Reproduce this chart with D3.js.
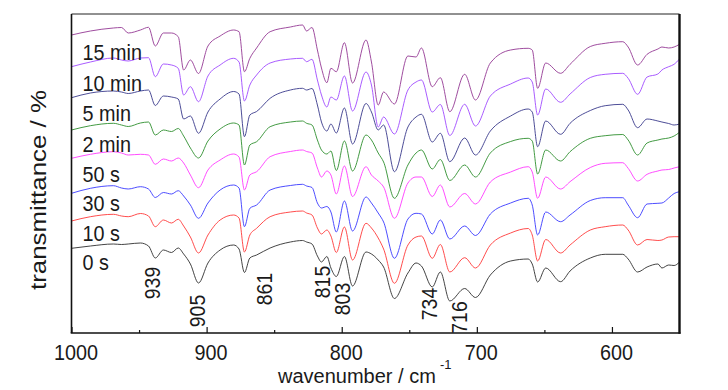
<!DOCTYPE html>
<html><head><meta charset="utf-8">
<script src="https://cdn.jsdelivr.net/npm/d3@7"></script>
<style>
body{margin:0;background:#fff}
svg{display:block}
text{font-family:"Liberation Sans",Arial,sans-serif;fill:#1a1a1a}
</style>
</head><body>
<svg id="c" width="728" height="390"></svg>
<script>
const wavenumbers = [1000,986,969,963,958,949,943,938,932,926,921,917,912,906,899,890,880,876,872,868,863,853,838,829,826,822,818,815,811,808,804,798,792,782,778,773,769,761,751,745,741,733,727,720,709,701,690,675,662,659,655,649,638,631,616,605,592,588,581,574,566,563,558,554,550];

const categories = ['0 s','10 s','30 s','50 s','2 min','5 min','10 min','15 min'];

const t0s = [84.7,87,89,88.5,89,90,87,75,83,80.5,85,79,69,50,70,83,88,84,60.5,75,78,85,91,92.5,91,89,77,71,76.5,65,56.5,76.5,47,81,79,73,66,34.5,60,70,67,46,61,32,44.5,35.5,58,72,74,69,51,65,51.3,62,75,78.7,78.7,74,61,66,69,65,68,67.5,71];
const t10s = [112,116.3,118.7,117,116.3,119.5,117,106.3,113,110,113.7,107,96,80,98,113,118,115,81,98,104.7,116.3,121,122,120,118,105,99,103,97,80.5,106,73,109.7,105,95,84,49.7,88,96,97,74.7,88.5,61,75.3,65,88,100,104.5,98,72,93.5,80,88,103,106.3,108,103,88,93.5,92.5,93,96,96.3,96.3];
const t30s = [139.7,144.7,147.3,145,144,146.3,144,135.5,140.5,139,142.3,137,128,114.7,130,143,148,145,106.3,124.7,128,143,147.5,148.7,147,145.5,130,125,126.5,121,101,132,102,136,130,120,111,74.7,114,119.7,119,99,113,94,107,97.5,119,130,134.7,128,98,121,111.3,118,132.5,135.3,135.3,128,115.3,129,129.7,130,135,139.5,141.3];
const t50s = [174.7,178.7,181.3,180,178,178.7,178,168.7,174,172,175,170,158,145.3,163,173,179,176,143,158,161.3,176.3,181.5,183,181.5,180,165,156,162,158,139,167,136.5,166.3,158,152,146,114.7,150,156,156,136.5,148,126,139.5,129,151,161,166.3,161,134.7,156,144,151.3,165.5,169.7,170.3,164.7,152,158.7,162,163,163.5,165,166.3];
const t2min = [203,207.3,209.7,208,206.5,210,211,198,203,201.5,204.5,197,185,175,192,204,210,208,168,188,191.3,206.3,211,212,209.7,208,193,183,179,182,162.5,192,162,198,193,180,171,134.7,168,180,183,164,173.5,152.5,168,156,180,191.5,194.7,192,159,183,172,181.3,194.7,197.3,198.5,193,178,190,193,194,195,197,200.7];
const t5min = [235.3,240,242,241,239.5,242,243,227.5,237,236,234,214,217,199.7,221,234,241.5,239,196.3,218,221.5,234.7,243,244.7,243,244.5,228,211,202,209,200,225,189,229.5,221,203,208,161.3,206,216,218.7,191,199.7,171.3,195,178,202,217,224,221,186.3,212,198.7,209.7,222.5,227.3,228.7,223,205.3,214,212,211,209.5,208,209];
const t10min = [266.3,271,275,273,272,275,275.3,256.3,269,268,264.7,238,246.3,231.3,257,268,274.7,271,232,248,258,270,274,274.7,271.3,273.7,253,238,226,236,233,257,222,261,248,206,216,199,243,251,253,221,228.5,197.5,228.7,207,237,249,255,251,218,244,230.7,239,255.5,258.7,259.7,254.7,238.7,256,259,263,266.3,268.7,274];
const t15min = [298,302,305,305.5,300,303,305.7,287,300,300,296.3,263,273,259.5,287,297,303,301.3,261.3,274.7,285,301.3,306,308,302,305.5,283,265,250.3,264.7,261.3,290.3,250,293,271,228,241,229,277,276,285,246.3,255.3,221.3,258.7,233,270,283,284.7,283,244.7,270,259.7,268.7,286.5,289.7,291.3,286,268,278.7,284,286,285,286,288.7];

const seriesValues = [t0s,t10s,t30s,t50s,t2min,t5min,t10min,t15min];
const colors = ['#303030','#ff3a3a','#3a3aff','#ff3aff','#2f8f2f','#3a3a8c','#a04aff','#953a95'];

const majorTicks = [1000,900,800,700,600];
const minorTicks = [950,850,750,650];
const peakLabels = ['939','905','861','815','803','734','716'];
const peakWn = [939,905,861,815,803,734,716];

const L=71.5, R=679.5, T=14, B=333;
const svg = d3.select('#c');
const x = d3.scaleLinear().domain([1000,550]).range([L,R]);
const y = d3.scaleLinear().domain([0,319]).range([B,T]);

function condense(sel,k){
  sel.each(function(){
    const n=this.getComputedTextLength();
    this.setAttribute('textLength', (n*k).toFixed(1));
    this.setAttribute('lengthAdjust','spacingAndGlyphs');
  });
}

// spectra
const line = d3.line().x((d,i)=>x(wavenumbers[i])).y(d=>y(d)).curve(d3.curveMonotoneX);
const g = svg.append('g');
seriesValues.forEach((vals,k)=>{
  g.append('path').attr('d',line(vals)).attr('fill','none')
   .attr('stroke',colors[k]).attr('stroke-width',1).attr('stroke-opacity',0.9);
});

// axes ticks
const ax = svg.append('g').attr('transform',`translate(0,${B})`)
  .call(d3.axisBottom(x).tickValues(majorTicks).tickSize(-6).tickFormat(d3.format('d')));
ax.select('.domain').remove();
ax.selectAll('line').attr('stroke','#111').attr('stroke-width',1.2);
ax.selectAll('text').attr('y',27).attr('dy',0).attr('dx',4)
  .style('font-size','22px').style('font-family','"Liberation Sans",Arial,sans-serif').attr('fill','#1a1a1a');
condense(ax.selectAll('text'),0.9);

const axm = svg.append('g').attr('transform',`translate(0,${B})`)
  .call(d3.axisBottom(x).tickValues(minorTicks).tickSize(-3).tickFormat(''));
axm.select('.domain').remove();
axm.selectAll('line').attr('stroke','#111').attr('stroke-width',1.2);

// frame
svg.append('line').attr('x1',L).attr('x2',R).attr('y1',T).attr('y2',T).attr('stroke','#222').attr('stroke-width',1);
svg.append('line').attr('x1',L).attr('x2',L).attr('y1',T).attr('y2',B).attr('stroke','#111').attr('stroke-width',1.6);
svg.append('line').attr('x1',L-0.8).attr('x2',R+1).attr('y1',B).attr('y2',B).attr('stroke','#111').attr('stroke-width',1.6);
svg.append('line').attr('x1',R).attr('x2',R).attr('y1',T).attr('y2',B+0.8).attr('stroke','#111').attr('stroke-width',2.4);

// series labels
const labelY = [270,241,211,181.7,151.7,121,91,60];
const sl = svg.append('g').selectAll('text').data(categories).join('text')
  .attr('x',82.5).attr('y',(d,i)=>labelY[i]).style('font-size','22px').text(d=>d);
condense(sl,0.9);

// peak labels
const peakDx = [6,5,12.4,8.4,12.2,5.9,11.6];
const peakY = [283,311,289,282,299,304,317.5];
const pl = svg.append('g').selectAll('text').data(peakLabels).join('text')
  .attr('transform',(d,i)=>`translate(${x(peakWn[i])+peakDx[i]},${peakY[i]}) rotate(-90)`)
  .attr('text-anchor','middle').style('font-size','22px').attr('fill','#333').text(d=>d);
condense(pl,0.88);

// axis titles
svg.append('text').attr('x',278).attr('y',383).style('font-size','20px').text('wavenumber / cm');
svg.append('text').attr('x',440).attr('y',369).style('font-size','13px').text('-1');

svg.append('text').attr('transform','translate(46,190) rotate(-90)')
  .attr('text-anchor','middle').style('font-size','22px')
  .attr('textLength',200).attr('lengthAdjust','spacingAndGlyphs').text('transmittance / %');
</script>
</body></html>
